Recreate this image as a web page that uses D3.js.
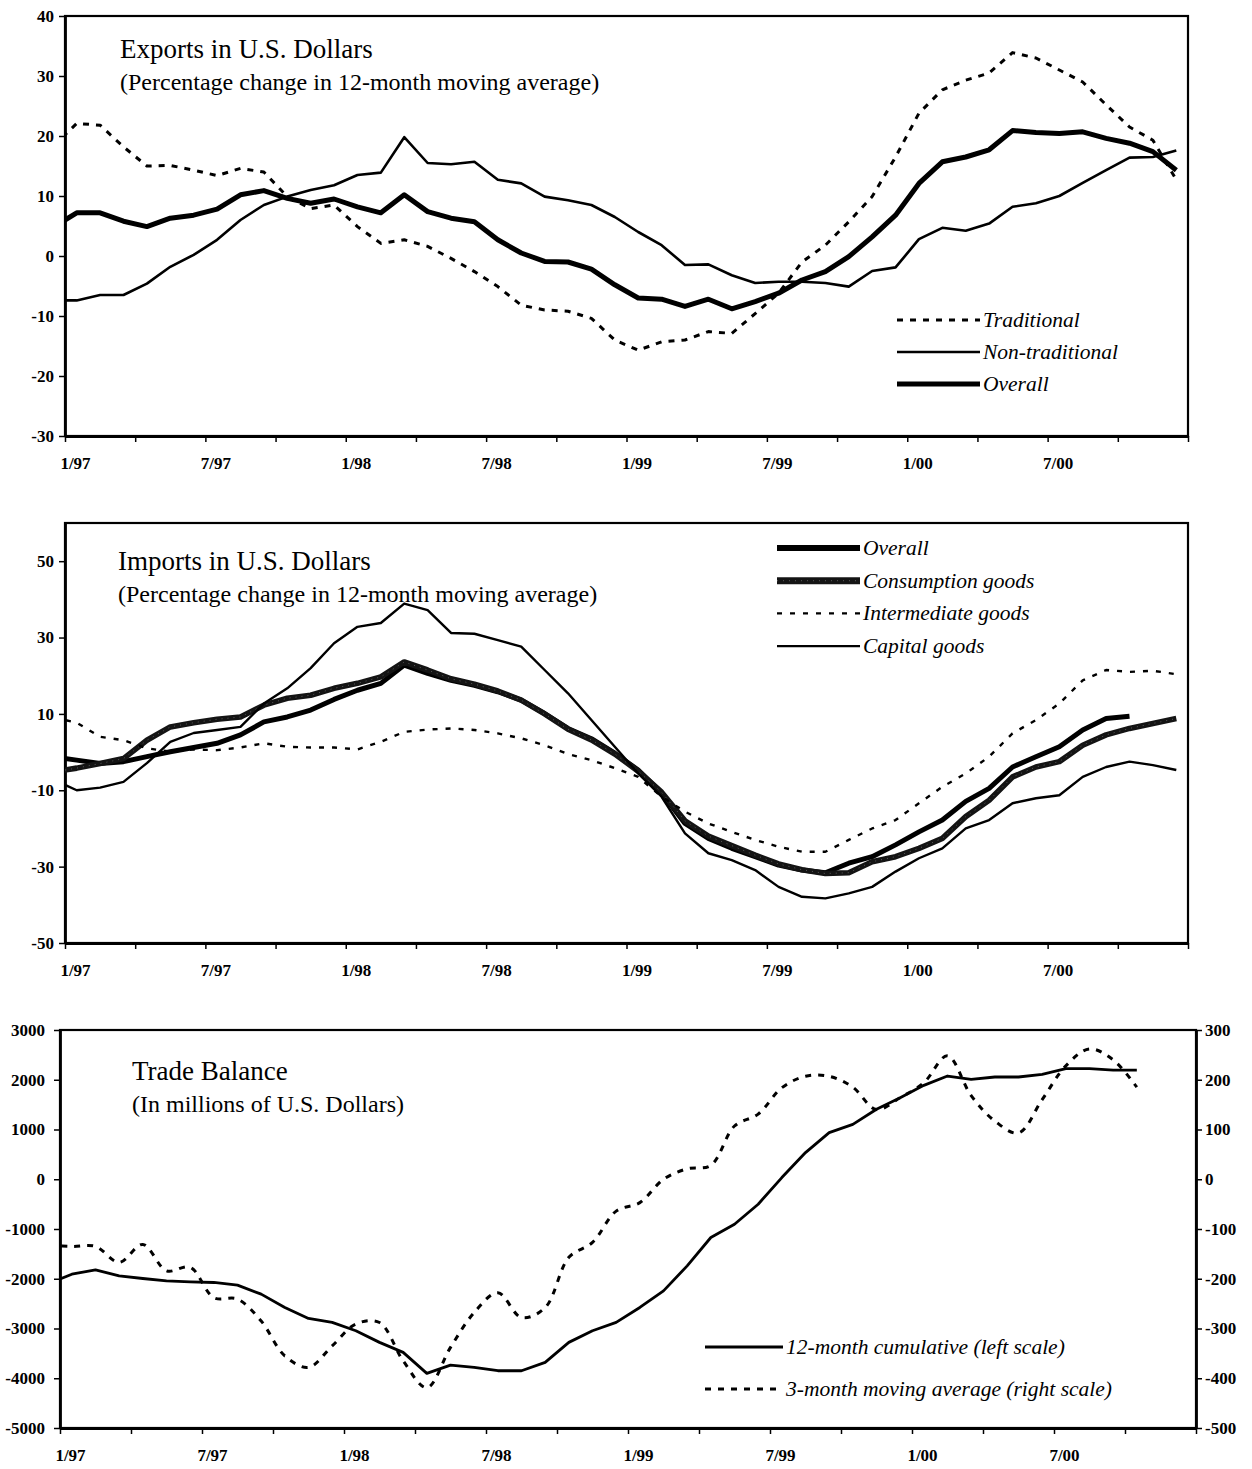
<!DOCTYPE html>
<html>
<head>
<meta charset="utf-8">
<script src="https://cdn.jsdelivr.net/npm/d3@7/dist/d3.min.js"></script>
<style>
    body { margin: 0; background: #fff; }
    svg text { font-family: "Liberation Serif", "Times New Roman", serif; fill: #000; }
</style>
</head>
<body>
<svg id="chart"></svg>
<script>

// months are counted from 1/97 = 0; every series starts at 12/96 (-1), clipped at the axis
var firstMonth = -1;
var quarterTicks = d3.range(0, 49, 3);
var monthLabels = ["1/97", "7/97", "1/98", "7/98", "1/99", "7/99", "1/00", "7/00"];

// Exports, % change in 12-month moving average
var exportsTraditional = [18.3, 22.1, 21.8, 18.2, 15.0, 15.1, 14.3, 13.4, 14.6, 14.0, 9.9, 7.9, 8.5, 4.9, 2.1, 2.7, 1.6, -0.4, -2.6, -5.1, -8.2, -9.0, -9.2, -10.4, -14.0, -15.7, -14.3, -14.0, -12.6, -12.9, -9.6, -6.2, -1.0, 1.8, 5.7, 9.9, 16.5, 23.8, 27.7, 29.3, 30.5, 33.9, 33.0, 31.0, 29.0, 25.2, 21.5, 19.3, 12.7];
var exportsNonTraditional = [-7.4, -7.4, -6.5, -6.5, -4.6, -1.8, 0.2, 2.7, 6.0, 8.5, 9.9, 11.0, 11.8, 13.5, 13.9, 19.8, 15.5, 15.3, 15.7, 12.7, 12.1, 9.9, 9.3, 8.5, 6.5, 4.0, 1.8, -1.5, -1.4, -3.2, -4.5, -4.3, -4.3, -4.5, -5.1, -2.5, -1.9, 2.8, 4.7, 4.2, 5.4, 8.2, 8.8, 10.0, 12.2, 14.3, 16.4, 16.5, 17.6];
var exportsOverall = [4.8, 7.2, 7.2, 5.8, 4.9, 6.3, 6.8, 7.8, 10.2, 10.9, 9.6, 8.8, 9.5, 8.2, 7.2, 10.2, 7.4, 6.3, 5.7, 2.7, 0.5, -0.9, -1.0, -2.2, -4.8, -7.0, -7.2, -8.4, -7.2, -8.8, -7.6, -6.2, -4.0, -2.6, -0.1, 3.2, 6.8, 12.1, 15.7, 16.5, 17.7, 20.9, 20.6, 20.4, 20.7, 19.6, 18.8, 17.4, 14.3];

// Imports, % change in 12-month moving average
var importsOverall = [-1.3, -2.1, -3.0, -2.5, -1.2, 0.1, 1.2, 2.3, 4.5, 7.9, 9.2, 11.0, 13.8, 16.2, 18.0, 22.8, 20.6, 18.8, 17.5, 15.8, 13.6, 10.1, 6.2, 3.5, -0.3, -4.7, -10.7, -18.7, -22.6, -25.2, -27.4, -29.6, -30.9, -31.6, -29.1, -27.4, -24.3, -20.9, -17.8, -12.9, -9.5, -3.9, -1.2, 1.4, 5.8, 8.8, 9.4];
var importsConsumption = [-5.2, -4.2, -3.0, -1.7, 3.1, 6.6, 7.7, 8.6, 9.2, 12.3, 14.1, 14.9, 16.7, 18.0, 19.7, 23.6, 21.5, 19.2, 17.8, 16.0, 13.6, 10.0, 6.0, 3.2, -0.5, -5.0, -10.5, -18.0, -22.0, -24.5, -27.0, -29.3, -30.8, -31.8, -31.6, -28.7, -27.4, -25.2, -22.6, -16.9, -12.6, -6.5, -3.9, -2.5, 1.8, 4.5, 6.2, 7.5, 8.8];
var importsIntermediate = [9.1, 7.7, 4.0, 3.1, 1.0, 0.1, 0.7, 0.5, 1.2, 2.3, 1.4, 1.2, 1.2, 0.7, 2.7, 5.3, 5.9, 6.2, 5.8, 4.9, 3.6, 1.8, -0.5, -2.1, -4.2, -6.5, -11.7, -15.6, -18.7, -20.9, -23.0, -24.8, -26.1, -26.1, -23.0, -20.0, -17.8, -13.4, -9.1, -5.6, -1.2, 4.9, 8.4, 12.7, 18.8, 21.5, 21.0, 21.3, 20.4];
var importsCapital = [-7.2, -10.0, -9.3, -7.8, -2.9, 2.7, 5.0, 5.8, 6.6, 12.7, 16.7, 22.0, 28.5, 32.8, 33.8, 38.9, 37.2, 31.2, 31.0, 29.3, 27.6, 21.5, 15.4, 8.4, 1.4, -5.6, -11.7, -21.3, -26.5, -28.3, -30.9, -35.3, -37.9, -38.3, -37.0, -35.3, -31.3, -27.8, -25.2, -20.0, -17.8, -13.4, -12.1, -11.3, -6.5, -3.9, -2.5, -3.4, -4.7];

// Trade balance, millions of US$
var balanceCumulative = [-2104, -1908, -1821, -1942, -1995, -2042, -2062, -2075, -2129, -2309, -2577, -2798, -2878, -3045, -3279, -3480, -3902, -3735, -3781, -3849, -3849, -3681, -3279, -3045, -2878, -2577, -2243, -1741, -1171, -904, -502, 34, 536, 938, 1104, 1406, 1640, 1888, 2075, 2008, 2055, 2055, 2108, 2222, 2222, 2195, 2195];
var balanceMovingAvg = [-133, -135, -135, -167, -131, -184, -177, -238, -241, -285, -355, -378, -335, -291, -288, -365, -419, -338, -268, -228, -278, -258, -157, -127, -64, -47, 0, 21, 28, 107, 131, 184, 207, 207, 185, 140, 164, 194, 248, 168, 117, 93, 160, 228, 262, 240, 185];

var exportsTicks = d3.range(-30, 41, 10);
var importsTicks = [-50, -30, -10, 10, 30, 50];
var balanceTicks = d3.range(-5000, 3001, 1000);
var balanceRightTicks = d3.range(-500, 301, 100);

var svg = d3.select("#chart").attr("width", 1252).attr("height", 1469);

function plain(d) {
    return String(d);
}

function drawPanel(cfg) {

    var x = d3.scaleLinear().domain([0, 48]).range([cfg.left, cfg.right]);
    var y = d3.scaleLinear().domain(cfg.yDomain).range([cfg.bottom, cfg.top]);
    var g = svg.append("g");

    g.append("clipPath").attr("id", cfg.id + "-clip")
        .append("rect")
        .attr("x", cfg.left).attr("y", cfg.top)
        .attr("width", cfg.right - cfg.left).attr("height", cfg.bottom - cfg.top);

    // frame
    g.append("rect")
        .attr("x", cfg.left).attr("y", cfg.top)
        .attr("width", cfg.right - cfg.left).attr("height", cfg.bottom - cfg.top)
        .attr("fill", "none").attr("stroke", "#000").attr("stroke-width", 2.2);

    var yAxis = g.append("g")
        .attr("transform", "translate(" + cfg.left + ",0)")
        .call(d3.axisLeft(y).tickValues(cfg.yTicks).tickSize(6).tickSizeOuter(0)
            .tickPadding(cfg.yPad).tickFormat(plain));

    var xAxis = g.append("g")
        .attr("transform", "translate(0," + cfg.bottom + ")")
        .call(d3.axisBottom(x).tickValues(quarterTicks).tickSize(6).tickSizeOuter(0)
            .tickFormat(function (d) {
                return d % 6 === 0 && d < 48 ? monthLabels[d / 6] : "";
            }));

    xAxis.selectAll("text").attr("dx", 10).attr("y", 33).attr("dy", 0);

    var axes = [yAxis, xAxis];

    if (cfg.yRight) {
        var yR = d3.scaleLinear().domain(cfg.yRight.domain).range([cfg.bottom, cfg.top]);
        axes.push(g.append("g")
            .attr("transform", "translate(" + cfg.right + ",0)")
            .call(d3.axisRight(yR).tickValues(cfg.yRight.ticks).tickSize(6).tickSizeOuter(0)
                .tickPadding(3).tickFormat(plain)));
    }

    axes.forEach(function (a) {
        a.select(".domain").attr("stroke-width", 2.8);
        a.selectAll(".tick line").attr("stroke-width", 1.5);
        a.selectAll("text").style("font-size", "17px").style("font-weight", "bold");
    });

    var plot = g.append("g").attr("clip-path", "url(#" + cfg.id + "-clip)");

    cfg.series.forEach(function (s) {
        var sy = s.scale ? d3.scaleLinear().domain(s.scale).range([cfg.bottom, cfg.top]) : y;
        var line = d3.line()
            .x(function (d, i) { return x(firstMonth + i + 0.5); })
            .y(function (d) { return sy(d); })
            .curve(s.curve || d3.curveLinear);
        plot.append("path")
            .datum(s.values)
            .attr("d", line)
            .attr("fill", "none")
            .attr("stroke", s.color || "#000")
            .attr("stroke-width", s.width)
            .attr("stroke-dasharray", s.dash || null)
            .attr("stroke-linejoin", "round");
        if (s.texture) {
            plot.append("path")
                .datum(s.values)
                .attr("d", line)
                .attr("fill", "none")
                .attr("stroke", "#5a5a5a")
                .attr("stroke-width", 1)
                .attr("stroke-dasharray", "1,5");
        }
    });

    // titles
    g.append("text")
        .attr("x", cfg.titleX).attr("y", cfg.titleY)
        .style("font-size", "27px")
        .text(cfg.title);
    g.append("text")
        .attr("x", cfg.titleX).attr("y", cfg.titleY + 32)
        .style("font-size", "24px")
        .text(cfg.subtitle);

    // legend
    var leg = g.append("g");
    cfg.series.forEach(function (s, i) {
        var ly = cfg.legend.y + i * cfg.legend.step;
        leg.append("line")
            .attr("x1", cfg.legend.x1).attr("x2", cfg.legend.x2)
            .attr("y1", ly).attr("y2", ly)
            .attr("stroke", s.color || "#000")
            .attr("stroke-width", s.legendWidth || s.width)
            .attr("stroke-dasharray", s.dash || null);
        if (s.texture) {
            leg.append("line")
                .attr("x1", cfg.legend.x1).attr("x2", cfg.legend.x2)
                .attr("y1", ly).attr("y2", ly)
                .attr("stroke", "#5a5a5a").attr("stroke-width", 1)
                .attr("stroke-dasharray", "1,5");
        }
        leg.append("text")
            .attr("x", cfg.legend.x2 + 3).attr("y", ly)
            .attr("dy", "0.32em")
            .style("font-size", "21.5px").style("font-style", "italic")
            .text(s.name);
    });
}

drawPanel({
    id: "exports",
    left: 65, right: 1188, top: 16, bottom: 436,
    yDomain: [-30, 40], yTicks: exportsTicks, yPad: 5,
    title: "Exports in U.S. Dollars",
    subtitle: "(Percentage change in 12-month moving average)",
    titleX: 120, titleY: 58,
    legend: { x1: 897, x2: 980, y: 320, step: 32 },
    series: [
        { name: "Traditional", values: exportsTraditional, width: 3, dash: "6,7" },
        { name: "Non-traditional", values: exportsNonTraditional, width: 2.6 },
        { name: "Overall", values: exportsOverall, width: 5 }
    ]
});

drawPanel({
    id: "imports",
    left: 65, right: 1188, top: 523, bottom: 943,
    yDomain: [-50, 60], yTicks: importsTicks, yPad: 5,
    title: "Imports in U.S. Dollars",
    subtitle: "(Percentage change in 12-month moving average)",
    titleX: 118, titleY: 570,
    legend: { x1: 777, x2: 860, y: 548, step: 32.7 },
    series: [
        { name: "Overall", values: importsOverall, width: 5, legendWidth: 6 },
        { name: "Consumption goods", values: importsConsumption, width: 5.6, legendWidth: 7, color: "#141414", texture: true },
        { name: "Intermediate goods", values: importsIntermediate, width: 2.4, dash: "5,8" },
        { name: "Capital goods", values: importsCapital, width: 2.4 }
    ]
});

drawPanel({
    id: "balance",
    left: 60, right: 1196, top: 1030, bottom: 1428,
    yDomain: [-5000, 3000], yTicks: balanceTicks, yPad: 9,
    yRight: { domain: [-500, 300], ticks: balanceRightTicks },
    title: "Trade Balance",
    subtitle: "(In millions of U.S. Dollars)",
    titleX: 132, titleY: 1080,
    legend: { x1: 705, x2: 783, y: 1347, step: 42 },
    series: [
        { name: "12-month cumulative (left scale)", values: balanceCumulative, width: 2.8 },
        { name: "3-month moving average (right scale)", values: balanceMovingAvg, width: 3, dash: "6,7",
            scale: [-500, 300], curve: d3.curveCatmullRom }
    ]
});

</script>
</body>
</html>
